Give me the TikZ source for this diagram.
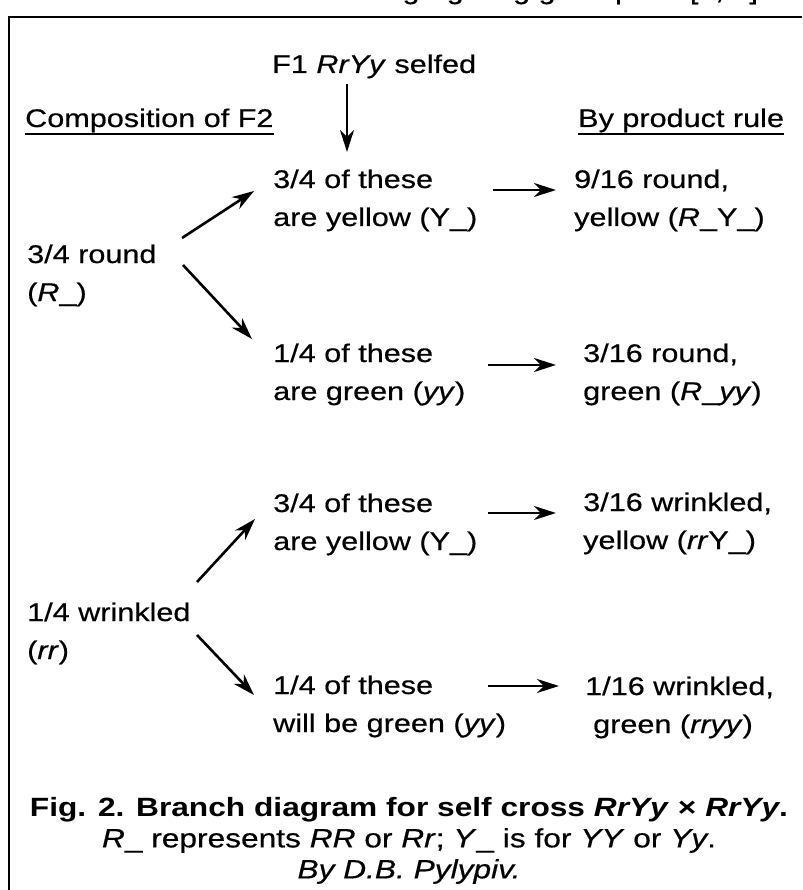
\documentclass[tikz,border=0pt]{standalone}
\usepackage{fontspec}
\setmainfont[FakeStretch=1.2,
  UprightFeatures={FakeBold=0.5},
  ItalicFeatures={FakeBold=0.5}]{Liberation Sans}
\usetikzlibrary{arrows.meta}
\tikzset{
  txt/.style={inner sep=0pt, anchor=base west, align=left, font=\fontsize{25.5}{38}\selectfont},
  arr/.style={line width=2.6pt, -{Stealth[length=22pt,width=14pt,inset=7pt]}},
  ul/.style={line width=2.4pt},
  frame/.style={line width=2.6pt}
}
\begin{document}
\begin{tikzpicture}[x=1pt,y=-1pt]
\useasboundingbox (0,0) rectangle (802,890);
% clipped text of the page above
\begin{scope}
\clip (0,0) rectangle (802,13);
\node[txt] (above) at (370,-1) {segregating gene pairs [3, 4]};
\end{scope}
% frame
\draw[frame] (802,17) -- (9,17) -- (9,890);
% headings
\node[txt] (f1) at (272,73) {F1 \textit{RrYy} selfed};
\node[txt] (comp) at (25,127) {Composition of F2};
\node[txt] (prod) at (578,127) {By product rule};
\draw[ul] ([yshift=-7pt]comp.base west) -- ([yshift=-7pt]comp.base east);
\draw[ul] ([yshift=-7pt]prod.base west) -- ([yshift=-7pt]prod.base east);
% left column (node base = baseline of the last line)
\node[txt] (r1) at (27,301) {3/4 round\\(\textit{R}\_)};
\node[txt] (r2) at (27,659) {1/4 wrinkled\\(\textit{rr})};
% middle column
\node[txt] (a1) at (273,226) {3/4 of these\\are yellow (Y\_)};
\node[txt] (a2) at (273,400) {1/4 of these\\are green (\textit{yy})};
\node[txt] (a3) at (273,550) {3/4 of these\\are yellow (Y\_)};
\node[txt] (a4) at (273,732) {1/4 of these\\will be green (\textit{yy})};
% right column
\node[txt] (p1) at (574,226) {9/16 round,\\yellow (\textit{R}\_Y\_)};
\node[txt] (p2) at (583,400) {3/16 round,\\green (\textit{R}\_\textit{yy})};
\node[txt] (p3) at (583,549) {3/16 wrinkled,\\yellow (\textit{rr}Y\_)};
\node[txt] (p4) at (585,733) {1/16 wrinkled,\\\hspace*{8pt}green (\textit{rryy})};
% connector end points
\coordinate (dtip) at (347,152);
\coordinate (r1u) at (182,238); \coordinate (a1i) at (254,191);
\coordinate (r1d) at (183,265); \coordinate (a2i) at (252,339);
\coordinate (r2u) at (197,582); \coordinate (a3i) at (255,519);
\coordinate (r2d) at (197,635); \coordinate (a4i) at (254,695);
\coordinate (a1o) at (493,190); \coordinate (p1i) at (556,190);
\coordinate (a2o) at (488,365); \coordinate (p2i) at (556,365);
\coordinate (a3o) at (488,513); \coordinate (p3i) at (556,513);
\coordinate (a4o) at (488,686); \coordinate (p4i) at (559,686);
% connectors
\draw[arr] (f1.south -| dtip) ++(0,6) -- (dtip);
\draw[arr] (r1u) -- (a1i);
\draw[arr] (r1d) -- (a2i);
\draw[arr] (r2u) -- (a3i);
\draw[arr] (r2d) -- (a4i);
\draw[arr] (a1o) -- (p1i);
\draw[arr] (a2o) -- (p2i);
\draw[arr] (a3o) -- (p3i);
\draw[arr] (a4o) -- (p4i);
% caption
\node[inner sep=0pt, anchor=north, align=center, font=\fontsize{26.4}{31}\selectfont] (cap) at (409,797)
 {\textbf{Fig. 2. Branch diagram for self cross \textit{RrYy} × \textit{RrYy}.}\\
  \textit{R}\_ represents \textit{RR} or \textit{Rr}; \textit{Y}\_ is for \textit{YY} or \textit{Yy}.\\
  \textit{By D.B. Pylypiv.}};
\end{tikzpicture}
\end{document}
